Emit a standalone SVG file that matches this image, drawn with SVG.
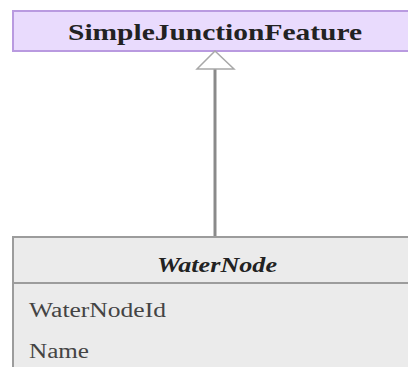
<svg xmlns="http://www.w3.org/2000/svg" width="408" height="367" viewBox="0 0 408 367">
<style>
.t{font-family:"Liberation Serif",serif;fill:#222}
.a{font-family:"Liberation Serif",serif;fill:#444;font-size:20px}
</style>
<rect width="408" height="367" fill="#fff"/>
<g id="SimpleJunctionFeature">
<rect x="13" y="11" width="400" height="40" fill="#e9dbfd" stroke="#b99ae0" stroke-width="2"/>
<text class="t" x="215" y="39.5" text-anchor="middle" font-size="24" font-weight="bold" textLength="294" lengthAdjust="spacingAndGlyphs">SimpleJunctionFeature</text>
</g>
<g id="connectors">
<line x1="215" y1="69" x2="215" y2="237" stroke="#8a8a8a" stroke-width="3"/>
<polygon points="215,51 197,69 234,69" fill="#fff" stroke="#a8a8a8" stroke-width="1.5"/>
</g>
<g id="WaterNode">
<rect x="13" y="237" width="400" height="140" fill="#ebebeb" stroke="#9c9c9c" stroke-width="2"/>
<line x1="13" y1="283" x2="413" y2="283" stroke="#9c9c9c" stroke-width="2"/>
<text class="t" x="217" y="271.5" text-anchor="middle" font-size="21" font-weight="bold" font-style="italic" textLength="120" lengthAdjust="spacingAndGlyphs">WaterNode</text>
<text class="a" x="29" y="316.7" textLength="137" lengthAdjust="spacingAndGlyphs">WaterNodeId</text>
<text class="a" x="29" y="358.3" textLength="60" lengthAdjust="spacingAndGlyphs">Name</text>
</g>
</svg>
